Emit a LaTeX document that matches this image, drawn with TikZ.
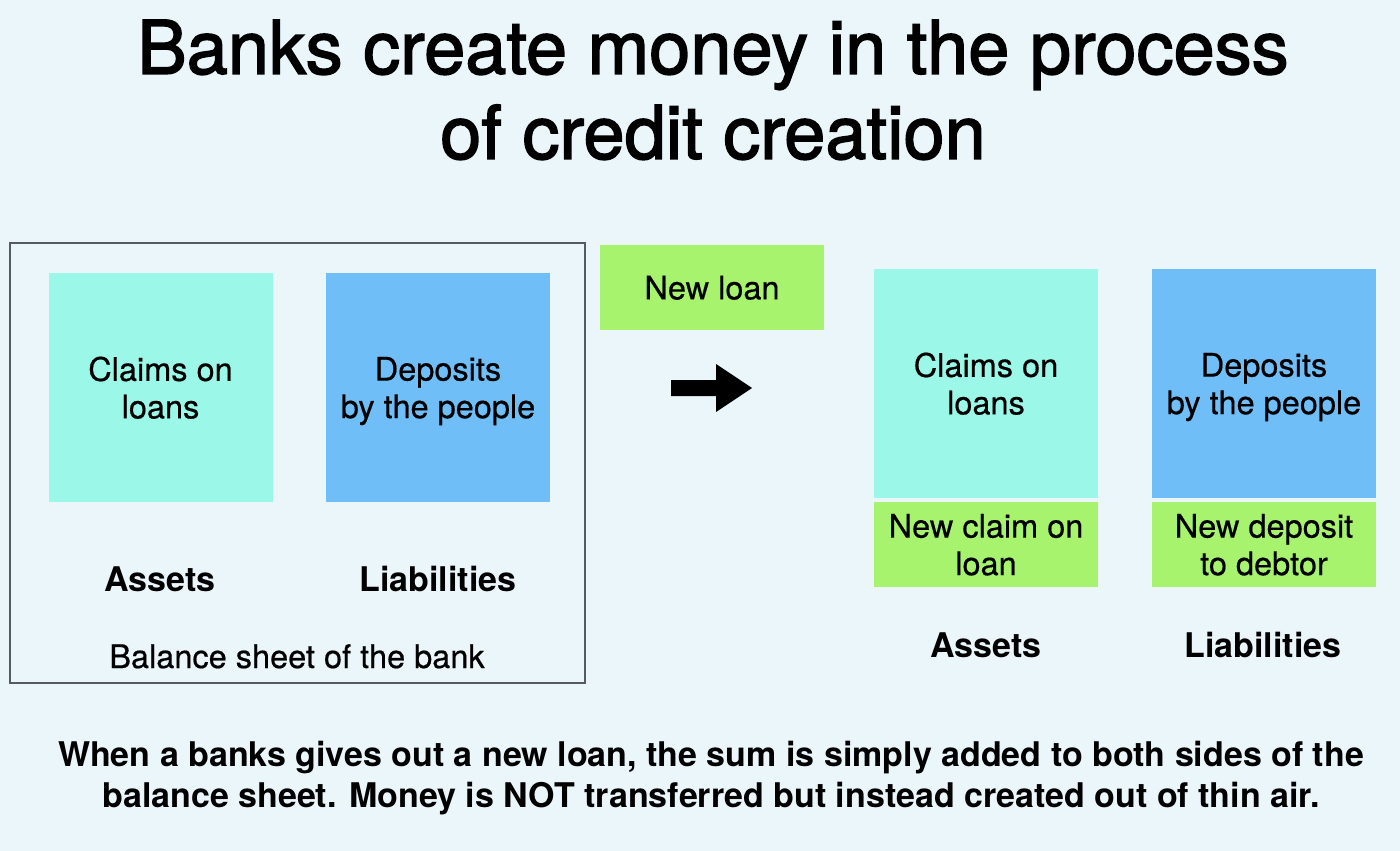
\documentclass[tikz,border=0pt]{standalone}
\usepackage{fontspec}
\setmainfont{TeX Gyre Heros}
\newfontfamily\titlefont[FakeBold=2]{TeX Gyre Heros}
\newfontfamily\boxfont[FakeBold=0.5]{TeX Gyre Heros}
\definecolor{bg}{HTML}{EBF6FB}
\definecolor{mint}{HTML}{9BF7E8}
\definecolor{sky}{HTML}{70BEF8}
\definecolor{lime}{HTML}{A7F36E}
\definecolor{frame}{HTML}{555B60}
\begin{document}
\begin{tikzpicture}[x=1pt,y=-1pt,
  box/.style={minimum width=224pt, inner sep=0pt, align=center, text depth=0pt,
    font={\boxfont\fontsize{32.5}{37.5}\selectfont}},
  tall/.style={box, minimum height=229pt},
  short/.style={box, minimum height=85pt},
  lbl/.style={inner sep=0pt, anchor=base, font={\fontsize{34}{40}\selectfont\bfseries}},
]
\fill[bg] (0,0) rectangle (1400,851);
\useasboundingbox (0,0) rectangle (1400,851);

% title
\node[inner sep=0pt, anchor=south, text depth=0pt, align=center,
  font={\titlefont\fontsize{74}{85}\selectfont}] (title) at (713,159)
  {Banks create money in the process\\of credit creation};

% left balance sheet
\draw[frame, line width=1.2pt] (10,243) rectangle (585,683);
\node[tall, fill=mint] (claims) at (160.5,387.5) {Claims on\\loans};
\node[tall, fill=sky] (deposits) at (438,387.5) {Deposits\\by the people};
\node[lbl] (assetsL) at (160,591) {Assets};
\node[lbl] (liabL) at (438,591) {Liabilities};
\node[inner sep=0pt, anchor=base, font={\boxfont\fontsize{32.5}{38}\selectfont}] (bsheet) at (297,668) {Balance sheet of the bank};

% new loan and arrow
\node[short, fill=lime] (newloan) at (712,287.5) {New loan};
\fill[black] (671,380) -- (716,380) -- (716,364) -- (752,388) -- (716,412) -- (716,396) -- (671,396) -- cycle;

% right balance sheet
\node[tall, fill=mint] (claimsR) at (986,383.5) {Claims on\\loans};
\node[short, fill=lime] (newclaim) at (986,544.5) {New claim on\\loan};
\node[tall, fill=sky] (depositsR) at (1264,383.5) {Deposits\\by the people};
\node[short, fill=lime] (newdep) at (1264,544.5) {New deposit\\to debtor};
\node[lbl] (assetsR) at (986,657) {Assets};
\node[lbl] (liabR) at (1263,657) {Liabilities};

% bottom text
\node[inner sep=0pt, anchor=south, text depth=0pt, align=center,
  font={\fontsize{34}{41}\selectfont\bfseries}] (note) at (711,808)
  {When a banks gives out a new loan, the sum is simply added to both sides of the\\balance sheet. Money is NOT transferred but instead created out of thin air.};
\end{tikzpicture}
\end{document}
